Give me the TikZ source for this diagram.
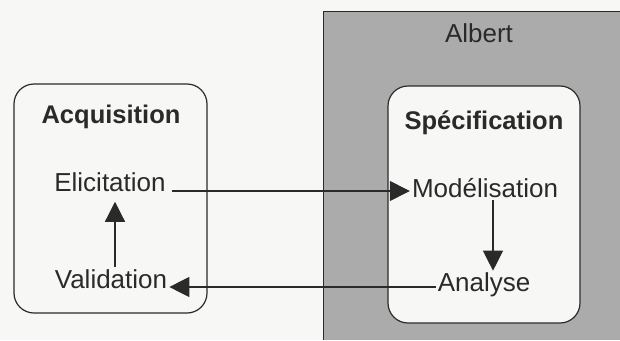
\documentclass[tikz,border=0pt]{standalone}
\usepackage{fontspec}
\setmainfont{Liberation Sans}
\usetikzlibrary{arrows.meta}
\definecolor{paper}{HTML}{F7F7F5}
\definecolor{toolgray}{HTML}{ABABAB}
\definecolor{ink}{HTML}{2A2A2A}
\begin{document}
\begin{tikzpicture}[x=1pt,y=-1pt,
  lbl/.style={text=ink,font=\fontsize{26}{30}\selectfont,inner sep=2pt},
  ttl/.style={text=ink,font=\fontsize{25.5}{30}\selectfont\bfseries,inner sep=2pt},
  frame/.style={draw=ink,line width=1.2pt,rounded corners=20pt},
  arr/.style={draw=ink,line width=1.2pt,-{Triangle[length=20pt,width=20pt]}}]
\useasboundingbox (0,0) rectangle (620,340);
\fill[paper] (0,0) rectangle (620,340);
% shaded tool area
\fill[toolgray] (323,11) rectangle (620,340);
\draw[ink,line width=1pt] (323,340) -- (323,11) -- (620,11);
\node[lbl] (albert) at (479,33) {Albert};
% acquisition phase
\draw[frame,fill=paper] (14,84) rectangle (207,313);
\node[ttl] (acq) at (111,117) {Acquisition};
\node[lbl] (elic) at (110,182) {Elicitation};
\node[lbl] (vali) at (111,279) {Validation};
% specification phase
\draw[frame,fill=paper] (388,86) rectangle (580,323);
\node[ttl] (spec) at (484,123) {Spécification};
\node[lbl] (modl) at (485,188) {Modélisation};
\node[lbl] (anal) at (484,285) {Analyse};
% connectors
\draw[arr] (vali.north -| 115,0) -- ([yshift=-8pt]elic.south -| 115,0);
\draw[arr] ([xshift=4pt,yshift=-9pt]elic.east) -- ([yshift=-9pt]elic.east -| modl.west);
\draw[arr] (modl.south -| 493,0) -- (anal.north -| 493,0);
\draw[arr] ([yshift=-2pt]anal.west) -- ([yshift=-2pt]anal.west -| vali.east);
\end{tikzpicture}
\end{document}
